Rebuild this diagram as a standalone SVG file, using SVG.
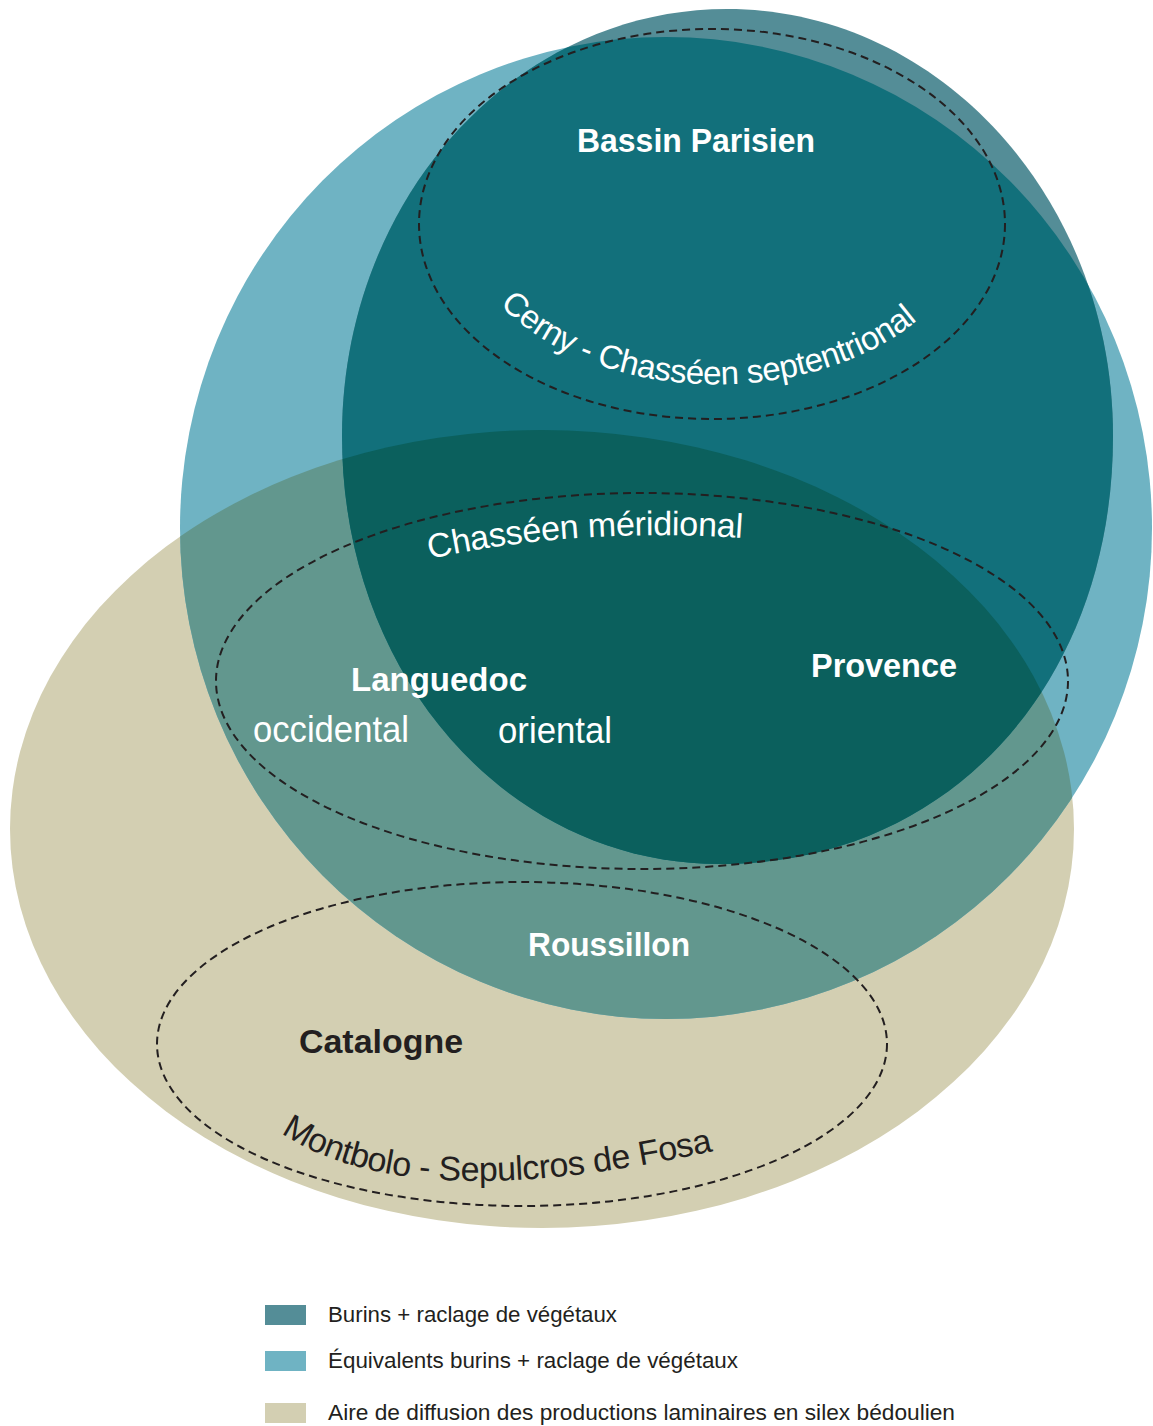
<svg xmlns="http://www.w3.org/2000/svg" width="1153" height="1426" viewBox="0 0 1153 1426">
  <style>
    .lbl { font-family: "Liberation Sans", Arial, sans-serif; }
    .bold { font-weight: bold; font-size: 34px; }
    .reg { font-size: 36px; }
    .white { fill: #ffffff; }
    .darktxt { fill: #231f20; }
    .dash { fill: none; stroke: #231f20; stroke-width: 2; stroke-dasharray: 8 5; }
    .leg { font-family: "Liberation Sans", Arial, sans-serif; font-size: 22px; fill: #231f20; }
  </style>
  <defs>
    <ellipse id="shLight" cx="666" cy="528" rx="486" ry="491"/>
    <ellipse id="shBeige" cx="542" cy="829" rx="532" ry="399"/>
    <path id="shDark" d="M 342 436 C 342 200, 514 9, 727 9 C 940 9, 1113 200, 1113 436 C 1113 684, 948 864, 720 864 C 508 864, 342 676, 342 436 Z"/>
    <clipPath id="cLight"><use href="#shLight"/></clipPath>
    <clipPath id="cDark"><use href="#shDark"/></clipPath>
    <path id="pCerny" d="M 500 305 A 258 173 0 0 0 920 318"/>
    <path id="pMerid" d="M 430 559 A 420 146 0 0 1 742 538"/>
    <path id="pMont" d="M 281 1133 C 399 1212, 600 1175, 709 1152"/>
  </defs>

  <g id="aire-bedoulien">
    <use href="#shBeige" fill="#d3cfb2"/>
  </g>
  <g id="equivalents-burins">
    <use href="#shLight" fill="#6fb3c3"/>
  </g>
  <g id="burins">
    <use href="#shDark" fill="#548d97"/>
  </g>
  <g id="overlaps">
    <g clip-path="url(#cLight)">
      <use href="#shBeige" fill="#62978e"/>
      <use href="#shDark" fill="#12707b"/>
    </g>
    <g clip-path="url(#cLight)">
      <g clip-path="url(#cDark)">
        <use href="#shBeige" fill="#0b605d"/>
      </g>
    </g>
  </g>

  <g id="cerny-chasseen-septentrional">
    <ellipse class="dash" cx="712" cy="224" rx="293" ry="195"/>
    <text class="lbl white" font-size="33" letter-spacing="-0.45"><textPath href="#pCerny">Cerny - Chasséen septentrional</textPath></text>
  </g>
  <g id="chasseen-meridional">
    <ellipse class="dash" cx="642" cy="681" rx="426" ry="188"/>
    <text class="lbl white" font-size="34" letter-spacing="-0.3"><textPath href="#pMerid">Chasséen méridional</textPath></text>
  </g>
  <g id="montbolo">
    <ellipse class="dash" cx="522" cy="1044" rx="365" ry="162"/>
    <text class="lbl darktxt" font-size="34" letter-spacing="-0.4"><textPath href="#pMont">Montbolo - Sepulcros de Fosa</textPath></text>
  </g>

  <g id="bassin-parisien">
    <text class="lbl bold white" x="577" y="152" textLength="238" lengthAdjust="spacingAndGlyphs">Bassin Parisien</text>
  </g>
  <g id="languedoc">
    <text class="lbl bold white" x="351" y="691" textLength="176" lengthAdjust="spacingAndGlyphs">Languedoc</text>
    <text class="lbl reg white" x="253" y="742" textLength="156" lengthAdjust="spacingAndGlyphs">occidental</text>
    <text class="lbl reg white" x="498" y="743" textLength="114" lengthAdjust="spacingAndGlyphs">oriental</text>
  </g>
  <g id="provence">
    <text class="lbl bold white" x="811" y="677" textLength="146" lengthAdjust="spacingAndGlyphs">Provence</text>
  </g>
  <g id="roussillon">
    <text class="lbl bold white" x="528" y="956" textLength="162" lengthAdjust="spacingAndGlyphs">Roussillon</text>
  </g>
  <g id="catalogne">
    <text class="lbl bold darktxt" x="299" y="1053" textLength="164" lengthAdjust="spacingAndGlyphs">Catalogne</text>
  </g>

  <g id="legend">
    <rect x="265" y="1305" width="41" height="20" fill="#548d97"/>
    <text class="leg" x="328" y="1322" textLength="289" lengthAdjust="spacingAndGlyphs">Burins + raclage de végétaux</text>
    <rect x="265" y="1351" width="41" height="20" fill="#6fb3c3"/>
    <text class="leg" x="328" y="1368" textLength="410" lengthAdjust="spacingAndGlyphs">Équivalents burins + raclage de végétaux</text>
    <rect x="265" y="1403" width="41" height="20" fill="#d3cfb2"/>
    <text class="leg" x="328" y="1420" textLength="627" lengthAdjust="spacingAndGlyphs">Aire de diffusion des productions laminaires en silex bédoulien</text>
  </g>
</svg>
